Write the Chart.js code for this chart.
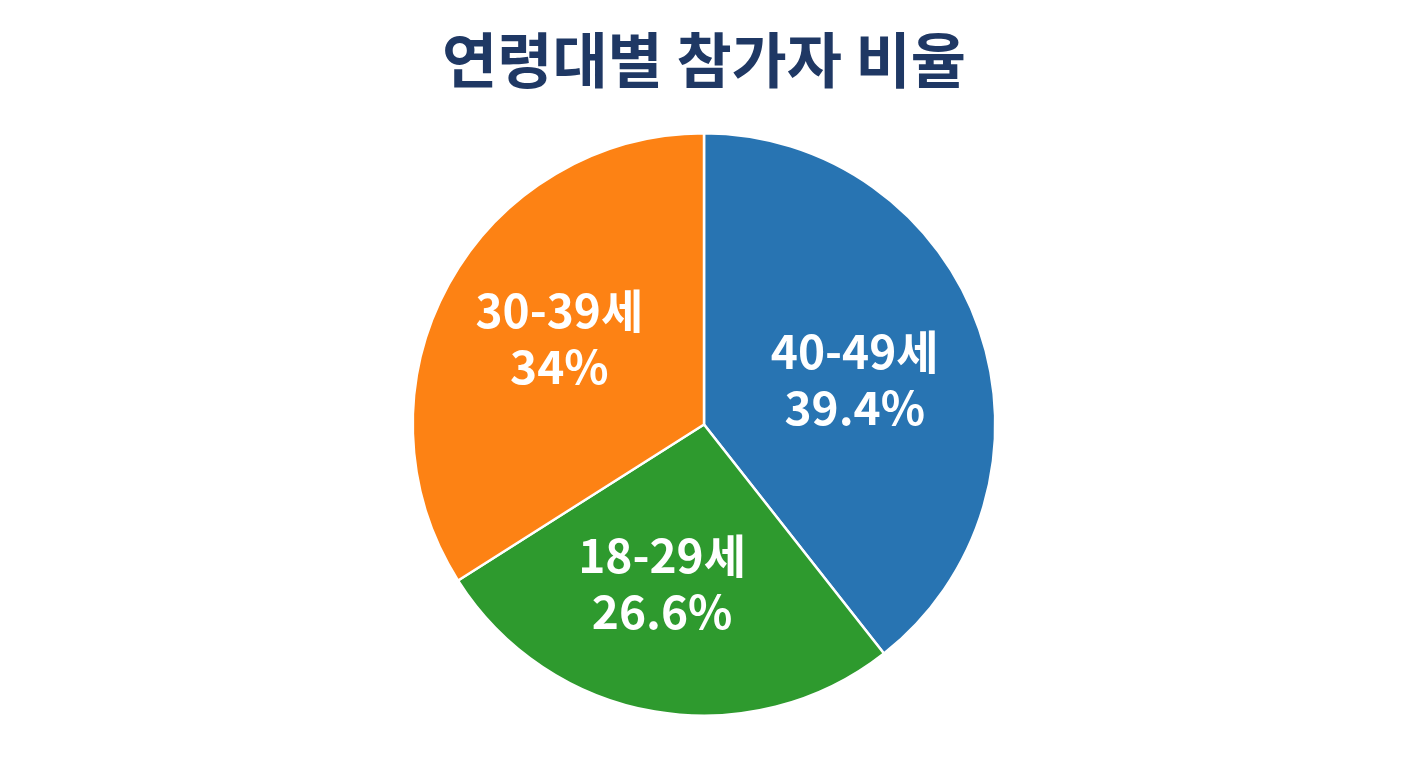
<!DOCTYPE html>
<html><head><meta charset="utf-8">
<script src="https://cdn.jsdelivr.net/npm/chart.js@4.4.0/dist/chart.umd.min.js"></script>
<style>html,body{margin:0;padding:0;background:#fff;}#wrap{width:1408px;height:768px;}</style>
</head><body><div id="wrap"><canvas id="c" width="1408" height="768"></canvas></div>
<script>
const titleText = '연령대별 참가자 비율';
const categories = ['40-49세', '18-29세', '30-39세'];
const values = [39.4, 26.6, 34];
const valueLabels = ['39.4%', '26.6%', '34%'];
const colors = ['#2874b2', '#2e9a2e', '#fd8214'];

const labelPlugin = {
  id: 'sliceLabels',
  afterDatasetsDraw(chart) {
    const ctx = chart.ctx;
    const meta = chart.getDatasetMeta(0);
    ctx.save();
    ctx.fillStyle = '#ffffff';
    ctx.textAlign = 'center';
    ctx.textBaseline = 'middle';
    ctx.font = 'bold 46px "Noto Sans CJK KR", "Noto Sans", sans-serif';
    meta.data.forEach((arc, i) => {
      const p = arc.getProps(['x','y','startAngle','endAngle','outerRadius'], true);
      const mid = (p.startAngle + p.endAngle) / 2 + 3 * Math.PI / 180;
      const r = p.outerRadius * 0.56;
      const cx = p.x + Math.cos(mid) * r - 6;
      const cy = p.y + Math.sin(mid) * r;
      ctx.fillText(categories[i], cx, cy - 28);
      ctx.fillText(valueLabels[i], cx, cy + 28);
    });
    ctx.restore();
  }
};

new Chart(document.getElementById('c'), {
  type: 'pie',
  data: {
    labels: categories,
    datasets: [{
      data: values,
      backgroundColor: colors,
      borderColor: '#ffffff',
      borderWidth: 2.5
    }]
  },
  options: {
    responsive: false,
    animation: false,
    layout: { padding: { top: 0, bottom: 51, left: 0, right: 0 } },
    plugins: {
      legend: { display: false },
      tooltip: { enabled: false },
      title: {
        display: true,
        text: titleText,
        color: '#1f3864',
        font: { family: '"Noto Sans CJK KR", sans-serif', size: 60, weight: 'bold', lineHeight: 1.2 },
        padding: { top: 24, bottom: 36 }
      }
    }
  },
  plugins: [labelPlugin]
});
</script></body></html>
